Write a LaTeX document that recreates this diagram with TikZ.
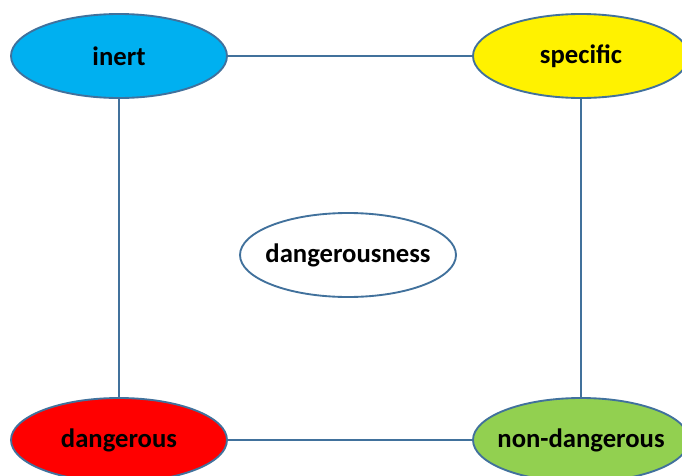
\documentclass[tikz,border=0pt]{standalone}
\usepackage{fontspec}
\setmainfont{Carlito}
\usepackage{xcolor}
\usetikzlibrary{shapes.geometric}
\definecolor{edgeblue}{HTML}{41719C}
\definecolor{inertblue}{HTML}{00B0F0}
\definecolor{safegreen}{HTML}{92D050}

\begin{document}
\begin{tikzpicture}[x=0.75pt,y=-0.75pt,
  font=\fontsize{20}{24}\selectfont\bfseries,
  bubble/.style={ellipse,draw=edgeblue,line width=1.4pt,minimum width=162pt,minimum height=63pt,inner sep=0pt},
  link/.style={draw=edgeblue,line width=1.4pt}]
\useasboundingbox (0,0) rectangle (682,475);
\clip (0,0) rectangle (682,475);
\node[bubble,fill=inertblue,label={center:inert}] (inert) at (119,56) {};
\node[bubble,fill=yellow,label={center:specific}] (specific) at (581,56) {};
\node[bubble,fill=red,label={center:dangerous}] (dangerous) at (119,440) {};
\node[bubble,fill=safegreen,label={center:non-dangerous}] (safe) at (581,440) {};
\node[bubble,fill=white,label={center:dangerousness}] (centre) at (348,255) {};
% square of links
\draw[link] (inert) -- (specific);
\draw[link] (specific) -- (safe);
\draw[link] (safe) -- (dangerous);
\draw[link] (dangerous) -- (inert);
\end{tikzpicture}
\end{document}
